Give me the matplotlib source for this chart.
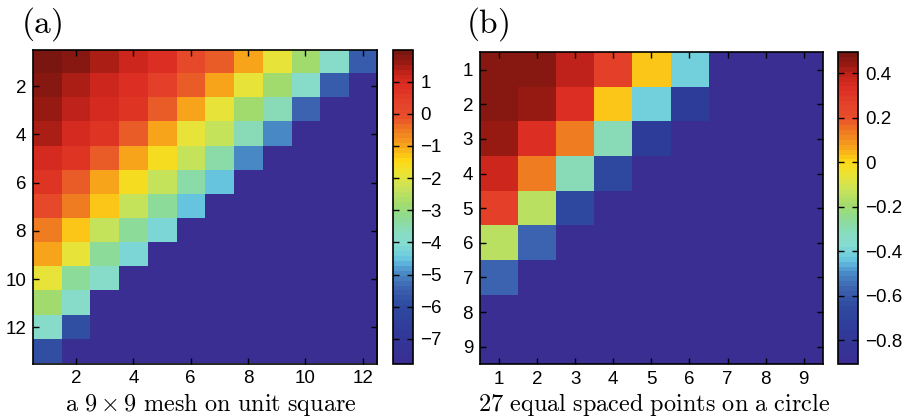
import numpy as np
import matplotlib
matplotlib.use("Agg")
import matplotlib.pyplot as plt
from matplotlib.colors import LinearSegmentedColormap

plt.rcParams['font.family'] = ['Liberation Sans', 'DejaVu Sans']
plt.rcParams['mathtext.fontset'] = 'cm'

# ---------------- data ----------------
# panel (a): 13 rows x 12 cols, upper-left triangle; rest is background
rows_a = [
    [1.88, 1.69, 1.39, 1.10, 0.81, 0.03, -0.26, -1.05, -1.92, -2.90, -3.88, -5.63],
    [1.69, 1.39, 1.10, 0.81, 0.32, -0.26, -1.05, -1.92, -2.90, -3.88, -5.63],
    [1.59, 1.30, 1.00, 0.61, -0.17, -1.05, -1.92, -2.90, -3.58, -5.44],
    [1.39, 1.00, 0.61, -0.17, -0.95, -1.92, -2.41, -3.58, -4.95],
    [1.00, 0.61, -0.17, -0.95, -1.53, -2.41, -3.39, -4.95],
    [0.71, -0.17, -0.95, -1.53, -2.41, -3.39, -4.56],
    [0.03, -0.56, -1.34, -2.41, -3.29, -4.56],
    [-0.56, -1.34, -2.41, -3.29, -4.27],
    [-1.05, -1.92, -3.29, -4.27],
    [-1.92, -3.29, -3.88],
    [-2.90, -3.88],
    [-3.88, -5.83],
    [-5.83],
]
ncols_a = 12
background_a = -7.78
vmin_a, vmax_a = -7.78, 1.98
cbar_ticks_a = [-7, -6, -5, -4, -3, -2, -1, 0, 1]
axis_ticks_a = [2, 4, 6, 8, 10, 12]

# panel (b): 9 x 9
rows_b = [
    [0.47, 0.47, 0.40, 0.26, 0.02, -0.42],
    [0.47, 0.44, 0.33, 0.02, -0.42, -0.74],
    [0.44, 0.33, 0.13, -0.31, -0.74],
    [0.38, 0.13, -0.31, -0.66],
    [0.26, -0.15, -0.66],
    [-0.15, -0.57],
    [-0.57],
    [],
    [],
]
ncols_b = 9
background_b = -0.908
vmin_b, vmax_b = -0.908, 0.495
cbar_ticks_b = [-0.8, -0.6, -0.4, -0.2, 0, 0.2, 0.4]
cbar_labels_b = ['\u22120.8', '\u22120.6', '\u22120.4', '\u22120.2', '0', '0.2', '0.4']
axis_ticks_b = [1, 2, 3, 4, 5, 6, 7, 8, 9]

label_a = r'$\mathrm{a\ 9\times 9\ mesh\ on\ unit\ square}$'
label_b = r'$\mathrm{27\ equal\ spaced\ points\ on\ a\ circle}$'

# colormap stops
cmap_stops = [
    (0.00, '#3a2e93'), (0.10, '#2f3a98'), (0.18, '#2e4aa0'), (0.24, '#3c64b0'),
    (0.29, '#4a8cc8'), (0.31, '#5aa8d8'), (0.34, '#6ccde0'), (0.38, '#85dcd0'),
    (0.42, '#88dcc0'), (0.47, '#8fdb90'), (0.51, '#a4dc6c'), (0.56, '#c9e35a'),
    (0.61, '#ece434'), (0.65, '#fdd816'), (0.68, '#fbb818'), (0.71, '#f5981e'),
    (0.75, '#f07a22'), (0.79, '#e8502a'), (0.84, '#e4402a'), (0.89, '#dc2e22'),
    (0.93, '#c8241c'), (0.97, '#941a12'), (1.00, '#7a1610'),
]
cmap = LinearSegmentedColormap.from_list('custom', cmap_stops, N=64)


def build(rows, ncols, bg):
    m = np.full((len(rows), ncols), bg, dtype=float)
    for i, r in enumerate(rows):
        m[i, :len(r)] = r
    return m


A = build(rows_a, ncols_a, background_a)
B = build(rows_b, ncols_b, background_b)

fig = plt.figure(figsize=(9.11, 4.2), dpi=100)
W, H = 911, 420


def rect(x0, y0, x1, y1):
    return [x0 / W, 1 - y1 / H, (x1 - x0) / W, (y1 - y0) / H]


def style_axes(ax, ticks):
    ax.set_xticks(ticks)
    ax.set_yticks(ticks)
    ax.tick_params(direction='in', top=True, right=True, length=4, width=1,
                   labelsize=13.5, pad=5)
    for s in ax.spines.values():
        s.set_linewidth(1.2)


ax_a = fig.add_axes(rect(33, 50, 377, 363.5))
im_a = ax_a.imshow(A, cmap=cmap, vmin=vmin_a, vmax=vmax_a, aspect='auto',
                   interpolation='nearest',
                   extent=[0.5, ncols_a + 0.5, len(rows_a) + 0.5, 0.5])
style_axes(ax_a, axis_ticks_a)

cax_a = fig.add_axes(rect(393.3, 50, 413.3, 364))
cb_a = fig.colorbar(im_a, cax=cax_a)
cb_a.set_ticks(cbar_ticks_a)
cb_a.set_ticklabels(['\u2212%d' % -t if t < 0 else '%d' % t for t in cbar_ticks_a])

ax_b = fig.add_axes(rect(480, 52.3, 822.7, 364))
im_b = ax_b.imshow(B, cmap=cmap, vmin=vmin_b, vmax=vmax_b, aspect='auto',
                   interpolation='nearest',
                   extent=[0.5, ncols_b + 0.5, len(rows_b) + 0.5, 0.5])
style_axes(ax_b, axis_ticks_b)

cax_b = fig.add_axes(rect(838.3, 52.3, 858.3, 364))
cb_b = fig.colorbar(im_b, cax=cax_b)
cb_b.set_ticks(cbar_ticks_b)
cb_b.set_ticklabels(cbar_labels_b)

for cb in (cb_a, cb_b):
    cb.ax.tick_params(direction='in', left=True, right=True, length=4, width=1,
                      labelsize=13.5, pad=5)
    cb.outline.set_linewidth(1.2)

fig.text(42 / W, 1 - 24 / H, r'$\mathrm{(a)}$', fontsize=24, ha='center', va='center')
fig.text(488 / W, 1 - 24 / H, r'$\mathrm{(b)}$', fontsize=24, ha='center', va='center')
fig.text(211 / W, 1 - 405 / H, label_a, fontsize=17.5, ha='center', va='center')
fig.text(654 / W, 1 - 405 / H, label_b, fontsize=17.5, ha='center', va='center')

fig.savefig('out.png', dpi=100)
